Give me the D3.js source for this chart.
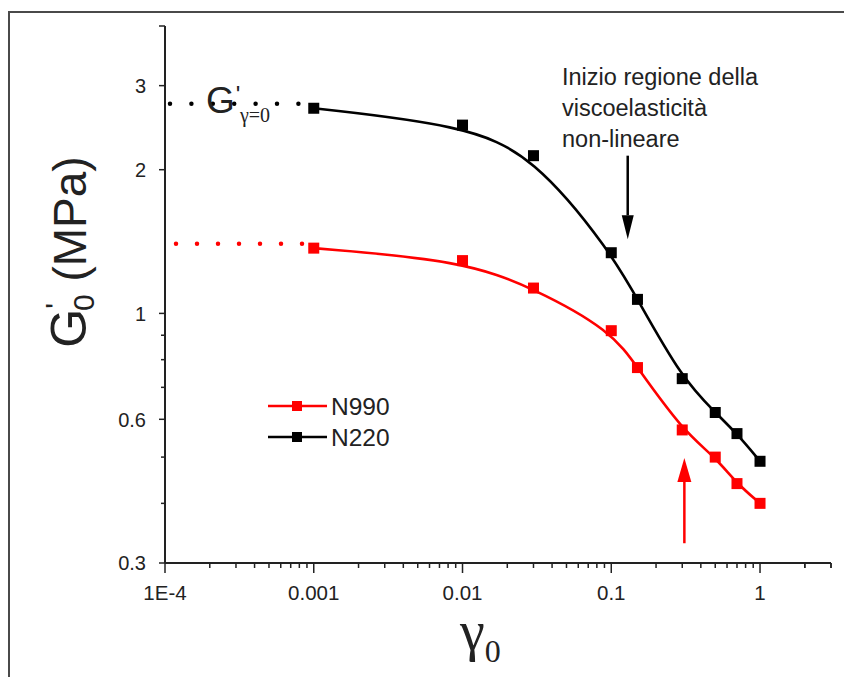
<!DOCTYPE html>
<html>
<head>
<meta charset="utf-8">
<script src="https://cdn.jsdelivr.net/npm/d3@7"></script>
<style>
  html, body { margin: 0; padding: 0; background: #fff; }
  svg { display: block; }
  text { font-family: "Liberation Sans", Arial, sans-serif; fill: #222; }
</style>
</head>
<body>
<svg id="chart" width="844" height="677"></svg>
<script>
// ---------- data ----------
const strain = [0.001, 0.01, 0.03, 0.1, 0.15, 0.3, 0.5, 0.7, 1];
const n220 = [2.69, 2.48, 2.14, 1.34, 1.07, 0.73, 0.62, 0.56, 0.49];
const n990 = [1.37, 1.29, 1.13, 0.92, 0.77, 0.57, 0.50, 0.44, 0.40];
const seriesNames = ["N990", "N220"];
const seriesColors = ["#ff0000", "#000000"];
// plateau (gamma -> 0) extrapolations
const plateauX = [1e-4, 0.001];
const plateauN220 = 2.75;
const plateauN990 = 1.40;
// axes
const xDomain = [1e-4, 3];
const yDomain = [0.3, 4];
const xMajorTicks = [1e-4, 1e-3, 1e-2, 1e-1, 1];
const xTickLabels = ["1E-4", "0.001", "0.01", "0.1", "1"];
const yTickValues = [0.3, 0.4, 0.5, 0.6, 0.7, 0.8, 0.9, 1, 2, 3, 4];
const yLabeled = [0.3, 0.6, 1, 2, 3];
const yTickLabels = ["0.3", "0.6", "1", "2", "3"];
// annotation arrows (data space)
const blackArrow = { x: 0.129, from: 2.14, to: 1.43 };
const redArrow = { x: 0.31, from: 0.33, to: 0.498 };
const annotationLines = ["Inizio regione della", "viscoelasticità", "non-lineare"];

// ---------- layout ----------
const svg = d3.select("#chart");
const x = d3.scaleLog().domain(xDomain).range([165, 831]);
const y = d3.scaleLog().domain(yDomain).range([563, 26]);

// frame of the figure (top/left visible)
svg.append("rect").attr("x", 9).attr("y", 12).attr("width", 900).attr("height", 900)
  .attr("fill", "none").attr("stroke", "#4a4a4a").attr("stroke-width", 2);

// ---------- axes ----------
const xMinor = [];
for (let e = -4; e <= 0; e++) for (let m = 1; m <= 9; m++) {
  const v = m * Math.pow(10, e);
  if (v <= xDomain[1]) xMinor.push(v);
}
xMinor.push(2, 3);

const gx = svg.append("g");
gx.append("line").attr("x1", x(xDomain[0])).attr("x2", x(xDomain[1]))
  .attr("y1", 563).attr("y2", 563).attr("stroke", "#222").attr("stroke-width", 2);
gx.selectAll(".mt").data(xMinor.filter(v => !xMajorTicks.includes(v))).enter().append("line")
  .attr("x1", d => x(d)).attr("x2", d => x(d)).attr("y1", 563).attr("y2", 568)
  .attr("stroke", "#222").attr("stroke-width", 1.5);
gx.selectAll(".Mt").data(xMajorTicks).enter().append("line")
  .attr("x1", d => x(d)).attr("x2", d => x(d)).attr("y1", 563).attr("y2", 573)
  .attr("stroke", "#222").attr("stroke-width", 1.5);
gx.selectAll(".xl").data(xMajorTicks).enter().append("text")
  .attr("x", d => x(d)).attr("y", 600).attr("text-anchor", "middle")
  .attr("font-size", 20.5).text((d, i) => xTickLabels[i]);

const gy = svg.append("g");
gy.append("line").attr("x1", 165).attr("x2", 165)
  .attr("y1", y(yDomain[0])).attr("y2", y(yDomain[1])).attr("stroke", "#222").attr("stroke-width", 2);
gy.selectAll(".yt").data(yTickValues).enter().append("line")
  .attr("x1", 165).attr("x2", d => yLabeled.includes(d) || d === 4 ? 159 : 161)
  .attr("y1", d => y(d)).attr("y2", d => y(d))
  .attr("stroke", "#222").attr("stroke-width", 1.5);
gy.selectAll(".yl").data(yLabeled).enter().append("text")
  .attr("x", 146).attr("y", d => y(d)).attr("dy", "0.36em").attr("text-anchor", "end")
  .attr("font-size", 20).text((d, i) => yTickLabels[i]);

// axis titles
const yTitle = svg.append("text").attr("transform", "translate(86,252) rotate(-90)")
  .attr("text-anchor", "middle").attr("font-size", 46);
yTitle.append("tspan").attr("font-size", 50).text("G");
yTitle.append("tspan").attr("font-size", 30).attr("dy", -20).text("'");
yTitle.append("tspan").attr("font-size", 30).attr("dx", -8).attr("dy", 28).text("0");
yTitle.append("tspan").attr("dy", -8).text(" (MPa)");

const xTitle = svg.append("text").attr("x", 460).attr("y", 650)
  .style("font-family", "'Liberation Serif', 'DejaVu Serif', serif").attr("font-size", 56);
xTitle.append("tspan").text("γ");
xTitle.append("tspan").attr("font-size", 32).attr("dy", 12).text("0");

// ---------- plateau dotted lines ----------
svg.append("line").attr("x1", x(plateauX[0]) + 5).attr("x2", x(plateauX[1]) - 8)
  .attr("y1", y(plateauN220)).attr("y2", y(plateauN220))
  .attr("stroke", "#000").attr("stroke-width", 4.5).attr("stroke-linecap", "round")
  .attr("stroke-dasharray", "0 21.4");
svg.append("line").attr("x1", x(plateauX[0]) + 11).attr("x2", x(plateauX[1]) - 8)
  .attr("y1", y(plateauN990)).attr("y2", y(plateauN990))
  .attr("stroke", "#ff0000").attr("stroke-width", 4.5).attr("stroke-linecap", "round")
  .attr("stroke-dasharray", "0 21");

// G'γ=0 label
const gl = svg.append("text").attr("x", 206).attr("y", 113).attr("font-size", 37).attr("fill", "#111");
gl.append("tspan").text("G");
gl.append("tspan").attr("font-size", 24).attr("dy", -10).attr("dx", 1).text("'");
svg.append("text").attr("x", 240).attr("y", 122).attr("font-size", 20)
  .style("font-family", "'Liberation Serif', serif").attr("fill", "#333").text("γ=0");

// ---------- series ----------
const line = d3.line().x(d => x(d[0])).y(d => y(d[1])).curve(d3.curveBasis);
const seriesData = [n990, n220];
seriesData.forEach((vals, i) => {
  const pts = strain.map((s, k) => [s, vals[k]]);
  svg.append("path").datum(pts).attr("d", line).attr("fill", "none")
    .attr("stroke", seriesColors[i]).attr("stroke-width", 2.6);
  svg.selectAll(".m" + i).data(pts).enter().append("rect")
    .attr("x", d => x(d[0]) - 5.5).attr("y", d => y(d[1]) - 5.5)
    .attr("width", 11).attr("height", 11).attr("fill", seriesColors[i]);
});

// ---------- legend ----------
seriesNames.forEach((nm, i) => {
  const ly = 406 + i * 31;
  svg.append("line").attr("x1", 268).attr("x2", 327).attr("y1", ly).attr("y2", ly)
    .attr("stroke", seriesColors[i]).attr("stroke-width", 2.6);
  svg.append("rect").attr("x", 292).attr("y", ly - 5).attr("width", 10).attr("height", 10)
    .attr("fill", seriesColors[i]);
  svg.append("text").attr("x", 331).attr("y", ly).attr("dy", "0.36em")
    .attr("font-size", 24.5).text(nm);
});

// ---------- annotations ----------
function arrow(a, color, w) {
  const x0 = x(a.x), y0 = y(a.from), y1 = y(a.to);
  const dir = y1 > y0 ? 1 : -1;
  const hl = 24;
  svg.append("line").attr("x1", x0).attr("x2", x0).attr("y1", y0).attr("y2", y1 - dir * hl)
    .attr("stroke", color).attr("stroke-width", 2.5);
  svg.append("path")
    .attr("d", `M${x0},${y1} L${x0 - w / 2},${y1 - dir * hl} L${x0 + w / 2},${y1 - dir * hl} Z`)
    .attr("fill", color);
}
arrow(blackArrow, "#000", 12);
arrow(redArrow, "#ff0000", 14);

const ann = svg.append("text").attr("x", 562).attr("y", 85).attr("font-size", 23.5);
annotationLines.forEach((t, i) => {
  ann.append("tspan").attr("x", 562).attr("dy", i === 0 ? 0 : 31).text(t);
});
</script>
</body>
</html>
